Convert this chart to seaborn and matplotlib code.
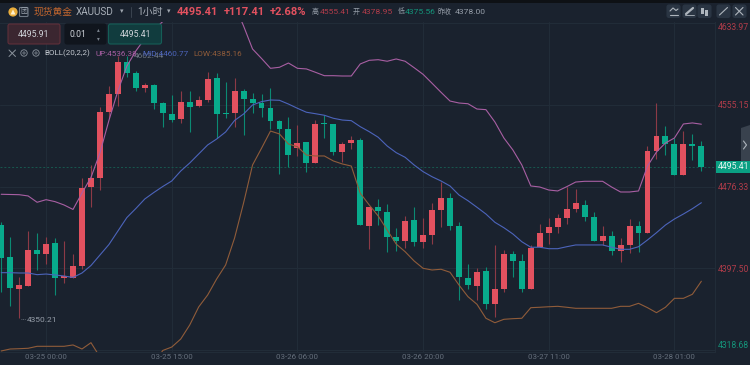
import numpy as np
import pandas as pd

import matplotlib
matplotlib.use('Agg')
import matplotlib.pyplot as plt
from matplotlib.patches import FancyBboxPatch, Circle, Polygon, Rectangle
import seaborn as sns

open_px = [4439.3, 4408.8, 4377.7, 4380.9, 4415.2, 4411.4, 4422.3, 4388.6, 4388.6, 4399.8,
           4475.9, 4484.9, 4548.1, 4565.2, 4596.3, 4585.4, 4571.3, 4574.4, 4556.5, 4545.9,
           4541.4, 4557.5, 4553.6, 4559.7, 4580.6, 4546.5, 4546.9, 4568.7, 4560.7, 4557.1,
           4552.0, 4539.2, 4531.5, 4513.5, 4519.0, 4499.0, 4536.9, 4536.6, 4509.6, 4518.3,
           4521.5, 4438.4, 4456.7, 4451.8, 4427.5, 4423.9, 4443.9, 4423.2, 4429.4, 4454.1,
           4465.3, 4438.4, 4388.3, 4380.6, 4394.7, 4363.5, 4378.0, 4411.1, 4404.7, 4378.0,
           4417.9, 4431.9, 4437.7, 4446.4, 4454.4, 4458.9, 4447.0, 4424.2, 4428.7, 4414.6,
           4420.1, 4438.4, 4431.3, 4510.6, 4525.0, 4517.0, 4487.5, 4517.3, 4515.7]
close_px = [4407.8, 4378.9, 4381.5, 4415.2, 4411.4, 4421.0, 4388.6, 4389.9, 4400.1, 4474.7,
            4484.9, 4547.9, 4565.2, 4596.3, 4585.4, 4571.3, 4573.9, 4557.1, 4546.9, 4540.4,
            4557.5, 4553.2, 4559.7, 4579.9, 4545.9, 4545.9, 4568.7, 4560.7, 4556.8, 4552.0,
            4539.2, 4532.1, 4507.0, 4518.3, 4499.0, 4536.6, 4536.3, 4509.6, 4517.6, 4521.5,
            4439.6, 4456.4, 4452.8, 4428.1, 4423.9, 4443.2, 4423.2, 4429.4, 4453.5, 4465.3,
            4438.4, 4389.0, 4381.3, 4394.1, 4363.2, 4377.7, 4411.7, 4404.9, 4378.0, 4417.5,
            4431.3, 4437.4, 4446.1, 4454.4, 4460.2, 4447.3, 4424.2, 4428.7, 4414.6, 4420.1,
            4438.4, 4431.3, 4510.6, 4525.0, 4517.3, 4487.5, 4517.3, 4515.4, 4495.41]
high_px = [4442.2, 4427.5, 4389.5, 4433.5, 4431.3, 4427.5, 4426.5, 4423.9, 4411.1, 4484.9,
           4497.1, 4552.7, 4573.2, 4602.44, 4602.0, 4587.9, 4576.4, 4575.1, 4558.1, 4564.5,
           4568.7, 4568.7, 4563.6, 4587.0, 4585.4, 4577.3, 4580.6, 4570.3, 4566.2, 4565.2,
           4571.0, 4540.4, 4543.6, 4535.6, 4519.0, 4540.4, 4545.3, 4536.6, 4519.0, 4525.3,
           4523.1, 4456.7, 4464.1, 4459.5, 4436.7, 4448.3, 4456.9, 4445.8, 4460.8, 4481.0,
           4469.9, 4442.5, 4401.8, 4397.6, 4398.7, 4420.4, 4415.2, 4414.6, 4411.4, 4419.8,
           4440.3, 4446.4, 4449.6, 4475.6, 4473.7, 4463.4, 4451.8, 4438.4, 4433.3, 4426.5,
           4445.1, 4443.5, 4515.7, 4556.5, 4534.7, 4522.8, 4529.8, 4527.0, 4520.5]
low_px = [4375.1, 4361.6, 4350.21, 4380.9, 4396.0, 4401.8, 4371.9, 4383.8, 4388.6, 4397.0,
          4456.9, 4473.0, 4542.1, 4553.9, 4581.6, 4568.7, 4567.1, 4550.7, 4534.0, 4538.8,
          4537.3, 4529.2, 4552.7, 4557.5, 4523.4, 4542.1, 4534.0, 4526.0, 4546.9, 4543.0,
          4531.5, 4488.1, 4495.5, 4506.1, 4490.1, 4499.0, 4523.4, 4506.4, 4500.3, 4512.5,
          4439.6, 4416.2, 4439.3, 4413.0, 4414.6, 4416.9, 4419.4, 4416.9, 4420.7, 4437.7,
          4434.5, 4367.1, 4377.4, 4366.8, 4358.7, 4350.4, 4374.8, 4389.5, 4374.8, 4377.4,
          4417.9, 4421.0, 4431.9, 4440.3, 4452.1, 4443.5, 4424.2, 4420.1, 4410.7, 4404.0,
          4412.1, 4413.6, 4431.3, 4502.9, 4506.7, 4487.5, 4487.5, 4501.9, 4491.6]

boll_up = [4468.9, 4468.7, 4468.5, 4467.3, 4461.2, 4463.7, 4461.8, 4458.6, 4454.3, 4470.1,
           4485.1, 4508.7, 4540.0, 4568.4, 4592.4, 4606.9, 4618.9, 4627.1, 4635.3, 4644.4,
           4653.1, 4661.8, 4665.6, 4667.6, 4665.6, 4659.9, 4651.2, 4631.0, 4608.8, 4599.7,
           4590.2, 4591.2, 4595.3, 4590.2, 4589.6, 4586.4, 4583.1, 4583.1, 4582.8, 4582.8,
           4594.4, 4597.9, 4598.5, 4597.0, 4599.2, 4597.0, 4590.8, 4584.4, 4575.8, 4567.1,
           4558.7, 4556.8, 4556.1, 4551.0, 4550.4, 4538.5, 4523.1, 4511.6, 4497.1, 4476.9,
           4475.9, 4473.0, 4472.1, 4476.2, 4480.7, 4481.4, 4481.4, 4481.4, 4475.9, 4471.1,
           4471.1, 4472.1, 4496.1, 4509.6, 4518.3, 4523.1, 4536.6, 4537.6, 4536.38]
boll_mid = [4393.4, 4393.4, 4393.1, 4393.1, 4391.5, 4392.1, 4391.2, 4390.2, 4388.8, 4393.1,
            4400.3, 4410.4, 4420.5, 4433.5, 4446.5, 4455.2, 4464.4, 4470.6, 4476.4, 4481.7,
            4491.3, 4499.0, 4507.7, 4516.4, 4522.1, 4528.9, 4540.0, 4546.2, 4554.9, 4558.1,
            4559.7, 4559.4, 4555.8, 4551.7, 4547.9, 4546.5, 4545.0, 4542.1, 4540.4, 4539.8,
            4534.0, 4529.2, 4523.8, 4515.4, 4509.0, 4504.5, 4497.1, 4490.7, 4485.8, 4481.7,
            4476.9, 4468.2, 4462.7, 4456.4, 4449.9, 4441.9, 4436.7, 4430.7, 4423.2, 4417.9,
            4417.9, 4416.5, 4416.5, 4418.4, 4420.1, 4420.1, 4420.1, 4420.1, 4417.9, 4415.9,
            4415.9, 4418.4, 4424.9, 4431.9, 4439.3, 4445.1, 4449.9, 4455.0, 4460.77]
boll_low = [4318.0, 4319.9, 4320.2, 4320.6, 4322.5, 4322.5, 4322.5, 4322.5, 4323.8, 4319.9,
            4326.0, 4312.2, 4305.5, 4299.7, 4296.8, 4296.8, 4299.7, 4305.5, 4318.5, 4321.8,
            4329.5, 4343.0, 4360.4, 4371.9, 4387.3, 4400.8, 4426.8, 4460.5, 4497.1, 4513.2,
            4529.8, 4527.0, 4517.3, 4514.7, 4506.7, 4505.8, 4505.8, 4501.0, 4498.1, 4496.1,
            4469.9, 4458.6, 4448.0, 4434.5, 4421.0, 4413.6, 4404.7, 4397.6, 4396.0, 4396.7,
            4393.8, 4381.5, 4370.3, 4363.0, 4349.5, 4345.2, 4348.5, 4349.1, 4349.5, 4359.7,
            4360.1, 4360.6, 4361.0, 4360.1, 4359.1, 4359.1, 4359.1, 4359.1, 4359.1, 4361.0,
            4361.0, 4363.9, 4359.7, 4354.9, 4360.1, 4368.7, 4368.7, 4372.6, 4385.16]

price_ticks = [4633.97, 4555.15, 4476.33, 4397.50, 4318.68]
time_bars = [5, 19, 33, 47, 61, 75]
time_labels = ['03-25 00:00', '03-25 15:00', '03-26 06:00', '03-26 20:00', '03-27 11:00', '03-28 01:00']
last_price = 4495.41

BG = '#1a222e'
GRID = '#222d39'
RED = '#e2515f'
GREEN = '#08ab8c'
RED_WICK = '#8c3a46'
GREEN_WICK = '#0b8a73'
PINK = '#a85fa3'
BLUE = '#4c64bb'
BROWN = '#905c3a'
DIM_RED = '#b03c4a'
DIM_GREEN = '#14947a'
GREY = '#656f7c'
LIGHT = '#d0d4da'

sns.set_theme(style='dark', rc={'axes.facecolor': BG, 'figure.facecolor': BG})
plt.rcParams['font.family'] = ['Roboto', 'Noto Sans CJK SC', 'DejaVu Sans']

df = pd.DataFrame({'open': open_px, 'close': close_px, 'high': high_px, 'low': low_px,
                   'up': boll_up, 'mid': boll_mid, 'dn': boll_low})
df['bar'] = np.arange(len(df))
rising = df['close'] >= df['open']

fig = plt.figure(figsize=(7.5, 3.65), dpi=100)
ax = fig.add_axes([0, 13.5 / 365, 715 / 750, 329.5 / 365])
ax.set_xlim(-0.134, 79.52)
ax.set_ylim(4317.5, 4634.8)

# grid and axis labels
ax.set_axisbelow(True)
ax.grid(True, color=GRID, lw=0.7)
ax.yaxis.tick_right()
ax.set_yticks(price_ticks)
ax.set_yticklabels(['%.2f' % p for p in price_ticks], fontsize=6.2)
ax.set_xticks(time_bars)
ax.set_xticklabels(time_labels, fontsize=5.7, color=GREY)
ax.tick_params(axis='both', length=0)
ax.tick_params(axis='x', pad=1.5)
ax.tick_params(axis='y', pad=2)
for lab, col in zip(ax.get_yticklabels(), [DIM_RED, DIM_RED, DIM_RED, DIM_RED, DIM_GREEN]):
    lab.set_color(col)
ax.get_yticklabels()[0].set_va('top')
ax.get_yticklabels()[-1].set_va('bottom')
for s in ['left', 'top']:
    ax.spines[s].set_visible(False)
for s in ['right', 'bottom']:
    ax.spines[s].set_color(GRID)
    ax.spines[s].set_linewidth(0.7)
ax.axhline(4634.0, color=GRID, lw=0.7)

# candles
ax.vlines(df['bar'][rising], df['low'][rising], df['high'][rising], color=RED_WICK, lw=0.8, zorder=2)
ax.vlines(df['bar'][~rising], df['low'][~rising], df['high'][~rising], color=GREEN_WICK, lw=0.8, zorder=2)
body_h = (df['close'] - df['open']).abs().clip(lower=0.9)
body_b = df[['open', 'close']].min(axis=1)
ax.bar(df['bar'][rising], body_h[rising], bottom=body_b[rising], width=0.66, color=RED, lw=0, zorder=3)
ax.bar(df['bar'][~rising], body_h[~rising], bottom=body_b[~rising], width=0.66, color=GREEN, lw=0, zorder=3)

# bollinger bands
sns.lineplot(data=df, x='bar', y='up', color=PINK, lw=0.8, ax=ax, zorder=4, errorbar=None)
sns.lineplot(data=df, x='bar', y='mid', color=BLUE, lw=0.8, ax=ax, zorder=4, errorbar=None)
sns.lineplot(data=df, x='bar', y='dn', color=BROWN, lw=0.8, ax=ax, zorder=4, errorbar=None)
ax.set_xlabel('')
ax.set_ylabel('')
ax.axhline(last_price, color='#17584f', lw=0.7, ls=(0, (2, 2)), zorder=1)

# overlay in pixel coordinates for the toolbar
ui = fig.add_axes([0, 0, 1, 1])
ui.set_xlim(0, 750)
ui.set_ylim(365, 0)
ui.axis('off')
ui.patch.set_alpha(0)
ui.add_patch(Rectangle((0, 0), 750, 2.5, color='#0e1115', lw=0))


def label(x, y, s, color=LIGHT, size=6.2, ha='left', **kw):
    ui.text(x, y, s, color=color, fontsize=size, ha=ha, va='center', **kw)


def box(x, y, w, h, face, edge, r=2):
    ui.add_patch(FancyBboxPatch((x + r, y + r), w - 2 * r, h - 2 * r,
                                boxstyle='round,pad=%d' % r, fc=face, ec=edge, lw=0.8, zorder=5))


HEAD_Y = 12
ui.add_patch(Circle((13, HEAD_Y), 4.6, color='#e9ad3c', lw=0))
ui.add_patch(Polygon([[10.5, 14.5], [15.5, 14.5], [13, 9.5]], color='#fff1cf', lw=0))
box(19.5, 7.5, 8.5, 9, BG, '#707a86', r=1)
label(23.7, HEAD_Y, '团', color='#9aa2ad', size=5, ha='center', zorder=6)
label(34, HEAD_Y, '现货黄金', color='#c4672f', size=7)
label(76, HEAD_Y, 'XAUUSD', color='#a8afb8', size=7.2)
label(122, HEAD_Y, '▾', color='#a0a7b0', size=5, ha='center')
ui.plot([130.5, 130.5], [7, 17], color='#3a4450', lw=0.7)
label(137, HEAD_Y, '1小时', color='#a8afb8', size=7.2)
label(169, HEAD_Y, '▾', color='#a0a7b0', size=5, ha='center')
label(177, HEAD_Y, '4495.41', color=RED, size=8, fontweight='bold')
label(223.5, HEAD_Y, '+117.41', color=RED, size=8, fontweight='bold')
label(270, HEAD_Y, '+2.68%', color=RED, size=8, fontweight='bold')
label(311.5, HEAD_Y, '高', color='#969ea9', size=5)
label(320, HEAD_Y, '4555.41', color=DIM_RED, size=6.1)
label(353, HEAD_Y, '开', color='#969ea9', size=5)
label(362, HEAD_Y, '4378.95', color=DIM_RED, size=6.1)
label(397.5, HEAD_Y, '低', color='#969ea9', size=5)
label(405, HEAD_Y, '4375.56', color=DIM_GREEN, size=6.1)
label(437, HEAD_Y, '昨收', color='#969ea9', size=5)
label(455, HEAD_Y, '4378.00', color='#969ea9', size=6.1)

# toolbar buttons top right
for bx in [667, 683, 698, 717, 733]:
    box(bx, 5, 13, 12.5, '#2a3543', '#2a3543', r=2)
ui.plot([669.5, 677.5], [14.5, 14.5], color='#aeb5bd', lw=0.8, zorder=6)
ui.plot([670, 673, 676, 678], [11, 8, 10.5, 9], color='#aeb5bd', lw=0.8, zorder=6)
ui.plot([686, 693], [14, 8], color='#aeb5bd', lw=1.6, zorder=6)
ui.plot([685, 694], [15, 15], color='#aeb5bd', lw=0.6, zorder=6)
ui.add_patch(Rectangle((700.5, 8), 3, 6, color='#aeb5bd', lw=0, zorder=6))
ui.add_patch(Rectangle((705, 9.5), 3, 6, color='#aeb5bd', lw=0, zorder=6))
ui.plot([719.5, 727.5], [15, 7.5], color='#aeb5bd', lw=0.8, zorder=6)
ui.plot([735.5, 743], [7.5, 15], color='#aeb5bd', lw=0.8, zorder=6)
ui.plot([735.5, 743], [15, 7.5], color='#aeb5bd', lw=0.8, zorder=6)

# order boxes
box(8, 24, 52, 20, '#3b2630', '#5f2f3a')
label(34, 34.5, '4495.91', ha='center', zorder=6)
box(65, 24, 29, 20, '#10151d', '#10151d')
box(92, 24, 14, 20, '#10151d', '#10151d')
label(70, 34.5, '0.01', zorder=6)
label(98.5, 29.5, '▴', color='#7d8590', size=4, ha='center', zorder=6)
label(98.5, 39, '▾', color='#7d8590', size=4, ha='center', zorder=6)
box(108.5, 24, 53, 20, '#113c3e', '#155e57')
label(135, 34.5, '4495.41', ha='center', zorder=6)

# indicator legend
ui.plot([9, 15.5], [50, 56.5], color='#8b939d', lw=0.7)
ui.plot([9, 15.5], [56.5, 50], color='#8b939d', lw=0.7)
for cx in [24, 36]:
    ui.add_patch(Circle((cx, 53), 3.2, fc='none', ec='#8b939d', lw=0.6))
    ui.add_patch(Circle((cx, 53), 1.1, fc='none', ec='#8b939d', lw=0.5))
label(44, 53.5, 'BOLL(20,2,2)', color='#c3c8cf', size=5.8)
label(134, 56, '4602.44', color='#6d7681', size=6)
label(95, 53.5, 'UP:4536.38', color=PINK, size=5.9, zorder=6)
label(142, 53.5, 'MID:4460.77', color=BLUE, size=5.9, zorder=6)
label(193.5, 53.5, 'LOW:4385.16', color=BROWN, size=5.9, zorder=6)

# low marker
ui.plot([21, 26], [318.5, 318.5], color='#6d7681', lw=0.6, ls=(0, (1, 1)))
label(27, 319.5, '4350.21', color='#969ea9', size=6)

# last price tag and side handle
ui.add_patch(Polygon([[741, 128], [750, 125], [750, 163], [741, 161]], color='#39424e', lw=0))
ui.plot([743.5, 746.5, 743.5], [141, 145, 149], color='#aeb5bd', lw=0.8)
ui.add_patch(Rectangle((716, 161), 34, 11.5, color='#0aa083', lw=0, zorder=5))
label(733, 166.7, '4495.41', color='#e9f5f2', size=6.2, ha='center', zorder=6)

fig.savefig('out.png', dpi=100)
